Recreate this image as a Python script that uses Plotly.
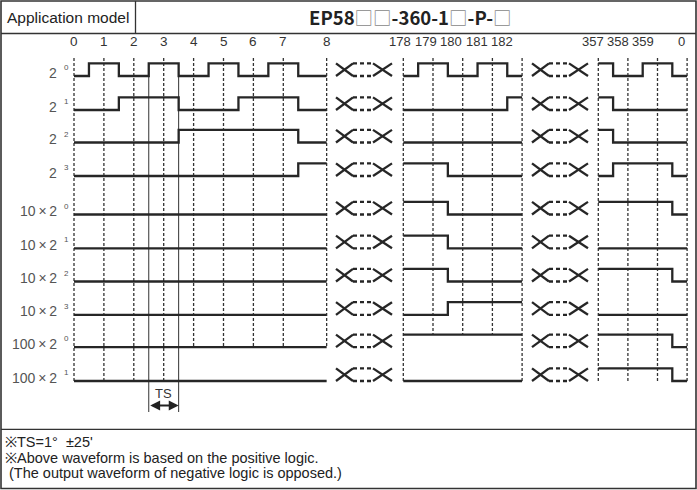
import plotly.graph_objects as go

W, H = 697, 490

# ---------------- data ----------------
row_names = ["2", "2", "2", "2",
             "10\u2009×\u20092", "10\u2009×\u20092", "10\u2009×\u20092", "10\u2009×\u20092",
             "100\u2009×\u20092", "100\u2009×\u20092"]
row_exps = ["0", "1", "2", "3", "0", "1", "2", "3", "0", "1"]

sec1_deg = [0, 1, 2, 3, 4, 5, 6, 7, 8]
sec2_deg = [178, 179, 180, 181, 182]
sec3_deg = [357, 358, 359, 0]

sec1_bits = [
    [0, 1, 0, 1, 0, 1, 0, 1, 0],
    [0, 0, 1, 1, 0, 0, 1, 1, 0],
    [0, 0, 0, 0, 1, 1, 1, 1, 0],
    [0, 0, 0, 0, 0, 0, 0, 0, 1],
    [0, 0, 0, 0, 0, 0, 0, 0, 0],
    [0, 0, 0, 0, 0, 0, 0, 0, 0],
    [0, 0, 0, 0, 0, 0, 0, 0, 0],
    [0, 0, 0, 0, 0, 0, 0, 0, 0],
    [0, 0, 0, 0, 0, 0, 0, 0, 0],
    [0, 0, 0, 0, 0, 0, 0, 0, 0],
]
sec2_bits = [
    [0, 1, 0, 1, 0],
    [0, 0, 0, 0, 1],
    [0, 0, 0, 0, 0],
    [1, 1, 0, 0, 0],
    [1, 1, 0, 0, 0],
    [1, 1, 0, 0, 0],
    [1, 1, 0, 0, 0],
    [0, 0, 1, 1, 1],
    [1, 1, 1, 1, 1],
    [0, 0, 0, 0, 0],
]
sec3_bits = [
    [1, 0, 1, 0],
    [1, 0, 0, 0],
    [1, 0, 0, 0],
    [0, 1, 1, 0],
    [1, 1, 1, 0],
    [0, 0, 0, 0],
    [1, 1, 1, 0],
    [0, 0, 0, 0],
    [1, 1, 1, 0],
    [1, 1, 1, 0],
]

title_left = "Application model"
title_model = "EP58□□-360-1□-P-□"
notes = ["※TS=1°  ±25'",
         "※Above waveform is based on the positive logic.",
         " (The output waveform of negative logic is opposed.)"]

# ---------------- layout geometry ----------------
row_base = [76, 110, 142.5, 176, 214.5, 248.3, 281.5, 314.8, 347.2, 381]
PULSE = 12.6
sections = [
    dict(deg=sec1_deg, bits=sec1_bits, x0=74.0, pitch=29.9,
         slots=[0, 1, 2, 3, 4, 5, 6, 7, 8.45], line_end=[9, 9, 9, 9, 8, 8, 8, 8, 8],
         lab_x0=74.0, lab_pitch=29.9),
    dict(deg=sec2_deg, bits=sec2_bits, x0=403.3, pitch=29.7,
         slots=[0, 1, 2, 3, 4], line_end=[9, 8.62, 8.62, 8.62, 9],
         lab_x0=400.0, lab_pitch=25.5),
    dict(deg=sec3_deg, bits=sec3_bits, x0=598.3, pitch=29.6,
         slots=[0, 1, 2, 3], line_end=[9, 9, 9, 9],
         lab_x0=593.0, lab_pitch=25.0),
]
glyph_x0 = [336, 532]
INK = "#262626"
FONT = "Liberation Sans"

fig = go.Figure()

def sx(sec, s):
    return sec["x0"] + sec["pitch"] * s

def row_y(r, lev):
    return row_base[r] - PULSE * lev

# dashed vertical grid lines
gx, gy = [], []
for sec in sections:
    for s, end in zip(sec["slots"], sec["line_end"]):
        x = sx(sec, s)
        if end == int(end):
            yb = row_base[int(end)]
        else:
            yb = row_base[int(end)] - PULSE
        gx += [x, x, None]
        gy += [58, yb, None]
fig.add_trace(go.Scatter(x=gx, y=gy, mode="lines",
                         line=dict(color="#333", width=1.3, dash="3px,2px"),
                         hoverinfo="skip", showlegend=False))

# TS solid lines (at transitions 2.5 and 3.5 of section 1)
s1 = sections[0]
tsx = [sx(s1, 2.5), sx(s1, 3.5)]
fig.add_trace(go.Scatter(x=[tsx[0], tsx[0], None, tsx[1], tsx[1]],
                         y=[row_base[0], 412, None, row_base[0], 412],
                         mode="lines", line=dict(color="#333", width=1),
                         hoverinfo="skip", showlegend=False))

# waveforms
wx, wy = [], []
for sec in sections:
    sl = sec["slots"]
    for r, bits in enumerate(sec["bits"]):
        xs = [sx(sec, sl[0])]
        ys = [row_y(r, bits[0])]
        for i in range(1, len(bits)):
            if bits[i] != bits[i - 1]:
                xt = sx(sec, sl[i - 1] + 0.5)
                xs += [xt, xt]
                ys += [row_y(r, bits[i - 1]), row_y(r, bits[i])]
        xs.append(sx(sec, sl[-1]))
        ys.append(row_y(r, bits[-1]))
        wx += xs + [None]
        wy += ys + [None]
fig.add_trace(go.Scatter(x=wx, y=wy, mode="lines",
                         line=dict(color=INK, width=2.3),
                         hoverinfo="skip", showlegend=False))

# X-crossing glyphs between sections
cx, cy, dx, dy = [], [], [], []
for g in glyph_x0:
    for r in range(len(row_base)):
        lo, hi = row_base[r], row_base[r] - PULSE
        for a, b in [(g, g + 17), (g + 37, g + 56)]:
            cx += [a, b, None, a, b, None]
            cy += [hi, lo, None, lo, hi, None]
        dx += [g + 17, g + 37, None, g + 17, g + 37, None]
        dy += [hi, hi, None, lo, lo, None]
fig.add_trace(go.Scatter(x=cx, y=cy, mode="lines", line=dict(color=INK, width=2.3),
                         hoverinfo="skip", showlegend=False))
fig.add_trace(go.Scatter(x=dx, y=dy, mode="lines",
                         line=dict(color=INK, width=2.3, dash="4px,3px"),
                         hoverinfo="skip", showlegend=False))

ann = []
# row labels (base text + superscript exponent)
for r, (nm, ex) in enumerate(zip(row_names, row_exps)):
    ann.append(dict(x=59, y=row_base[r] - 3.5, text=nm, showarrow=False,
                    xanchor="right", yanchor="middle",
                    font=dict(family=FONT, size=14, color="#555")))
    ann.append(dict(x=61.5, y=row_base[r] - 8.5, text=ex, showarrow=False,
                    xanchor="left", yanchor="middle",
                    font=dict(family=FONT, size=8, color="#555")))
# tick labels
for sec in sections:
    n = len(sec["deg"])
    for i, d in enumerate(sec["deg"]):
        if sec is s1:
            x = sx(s1, s1["slots"][i])
        elif i == n - 1 and sec is sections[2]:
            x = sx(sec, sec["slots"][i]) - 6
        else:
            x = sec["lab_x0"] + sec["lab_pitch"] * i
        ann.append(dict(x=x, y=41, text=str(d), showarrow=False,
                        xanchor="center", yanchor="middle",
                        font=dict(family=FONT, size=13.5 if sec is s1 else 13, color="#333")))
# TS label + arrow
ann.append(dict(x=(tsx[0] + tsx[1]) / 2, y=393, text="TS", showarrow=False,
                xanchor="center", yanchor="middle", font=dict(family=FONT, size=13, color="#333")))
ann.append(dict(x=tsx[1], y=405.5, ax=tsx[0], ay=405.5, xref="x", yref="y",
                axref="x", ayref="y", text="", showarrow=True, arrowhead=2,
                arrowside="end+start", arrowsize=1.1, arrowwidth=1.8, arrowcolor="#222"))
# header
ann.append(dict(x=5, y=17, text=title_left, showarrow=False, xanchor="left", yanchor="middle",
                font=dict(family=FONT, size=15.5, color="#222")))
title_rich = "".join(
    "<span style='font-weight:normal;color:#888'>□</span>" if ch == "□" else "<b>" + ch + "</b>"
    for ch in title_model)
ann.append(dict(x=410, y=17, text=title_rich, showarrow=False,
                xanchor="center", yanchor="middle",
                font=dict(family="Noto Sans CJK KR", size=18.5, color="#222")))
# notes
for i, t in enumerate(notes):
    ann.append(dict(x=3, y=441.8 + 15.8 * i, text=t, showarrow=False, xanchor="left",
                    yanchor="middle", font=dict(family=FONT, size=14.5, color="#222")))

shapes = [
    dict(type="rect", x0=1, y0=1, x1=696, y1=488.5, line=dict(color="#333", width=1.6)),
    dict(type="line", x0=1, y0=33.5, x1=696, y1=33.5, line=dict(color="#333", width=1.3)),
    dict(type="line", x0=135.5, y0=1, x1=135.5, y1=33.5, line=dict(color="#333", width=1.3)),
    dict(type="line", x0=1, y0=429.3, x1=696, y1=429.3, line=dict(color="#333", width=1.3)),
]

fig.update_layout(
    width=W, height=H, margin=dict(l=0, r=0, t=0, b=0),
    paper_bgcolor="white", plot_bgcolor="white",
    xaxis=dict(range=[0, W], visible=False, fixedrange=True),
    yaxis=dict(range=[H, 0], visible=False, fixedrange=True),
    annotations=ann, shapes=shapes, showlegend=False,
)

fig.write_html("out.html", config={"displayModeBar": False},
               post_script="document.body.style.margin='0';document.body.style.overflow='hidden';")
